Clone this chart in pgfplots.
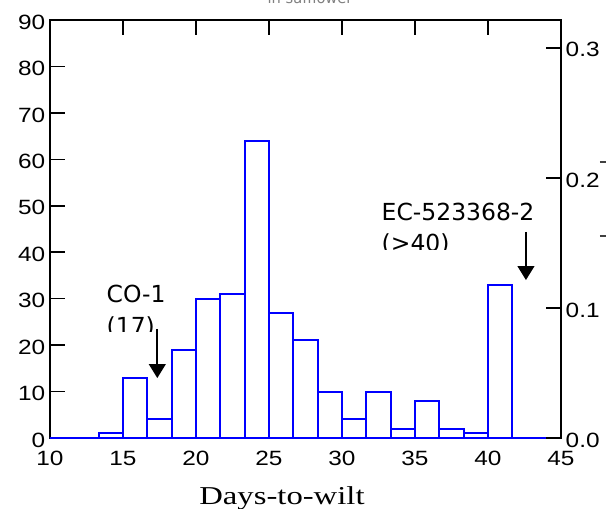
\documentclass[border=0pt]{standalone}
\usepackage{fontspec}
\setmainfont{Liberation Sans}[FakeStretch=1.18]
\newfontfamily\xlabfont{Liberation Serif}[FakeStretch=1.27]
\newfontfamily\notefont{DejaVu Sans}
\usepackage{pgfplots}
\pgfplotsset{compat=1.18}
\usetikzlibrary{arrows.meta}

\pgfplotsset{
  wiltbase/.style={
    at={(0,0)}, anchor=south west,
    width=383.25pt, height=313.5pt, scale only axis,
    xmin=10, xmax=45,
    tick align=inside,
    major tick length=11pt,
    axis line style={-, line width=1.2pt},
    tick style={line width=1.1pt, black},
    ticklabel style={font=\fontsize{15.5}{18}\selectfont},
    /pgf/number format/assume math mode=true,
    yticklabel style={yshift=-1.5pt},
  }
}

\begin{document}
\begin{tikzpicture}
\useasboundingbox (-37.5pt,-53.25pt) rectangle (423.75pt,328.5pt);
\begin{axis}[wiltbase,
  ymin=0, ymax=90,
  xtick={10,15,...,45}, ytick={0,10,...,90},
  xtick pos=right, xticklabel pos=left,
  ytick pos=left,
  xticklabel style={yshift=-6.5pt},
  xlabel={Days-to-wilt},
  xlabel style={font=\xlabfont\fontsize{19.3}{22}\selectfont,
    at={(axis description cs:0.454,-0.158)}, anchor=base},
  clip=false,
]
% histogram, bin width 5/3 day
\addplot[ybar interval, draw=blue, fill=white, line width=1.5pt] coordinates {
 (10,0) (11.667,0) (13.333,1) (15,13) (16.667,4) (18.333,19) (20,30)
 (21.667,31) (23.333,64) (25,27) (26.667,21) (28.333,10) (30,4)
 (31.667,10) (33.333,2) (35,8) (36.667,2) (38.333,1) (40,33)
 (41.667,0) (43.333,0) (45,0)};

\node[font=\notefont\fontsize{11}{13}\selectfont, text=gray, anchor=base]
  at (rel axis cs:0.509,1.0383) {in safflower};

\node[anchor=base west, font=\notefont\fontsize{17.6}{21}\selectfont]
  at (axis cs:13.56,29.07) {CO-1};
\coordinate (l17) at (axis cs:13.56,22.18);
\coordinate (k17) at (axis cs:12,23.0);
\draw[line width=1.5pt, -{Triangle[width=12.5pt,length=10.5pt]}]
  (axis cs:17.35,23.5) -- (axis cs:17.35,12.9);

\node[anchor=base west, font=\notefont\fontsize{17.6}{21}\selectfont]
  at (axis cs:32.4,46.9) {EC-523368-2};
\coordinate (l40) at (axis cs:32.4,40.05);
\coordinate (k40) at (axis cs:31,40.5);
\draw[line width=1.5pt, -{Triangle[width=12.5pt,length=10.5pt]}]
  (axis cs:42.6,44.4) -- (axis cs:42.6,34.0);

\draw[darkgray, line width=1.1pt] (rel axis cs:1.0763,0.660) -- (rel axis cs:1.0881,0.660);
\draw[darkgray, line width=1.1pt] (rel axis cs:1.0763,0.483) -- (rel axis cs:1.0881,0.483);
\end{axis}

\begin{axis}[wiltbase,
  ymin=0, ymax=0.32143,
  axis x line=none, axis y line*=right,
  ytick={0,0.1,0.2,0.3}, yticklabels={0.0,0.1,0.2,0.3},
  tick align=inside,
]
\end{axis}

\begin{scope}
\clip (k17) rectangle ++(80pt,30pt);
\node[anchor=base west, font=\notefont\fontsize{17.6}{21}\selectfont] at (l17) {(17)};
\end{scope}
\begin{scope}
\clip (k40) rectangle ++(100pt,30pt);
\node[anchor=base west, font=\notefont\fontsize{17.6}{21}\selectfont] at (l40) {(>40)};
\end{scope}
\end{tikzpicture}
\end{document}
